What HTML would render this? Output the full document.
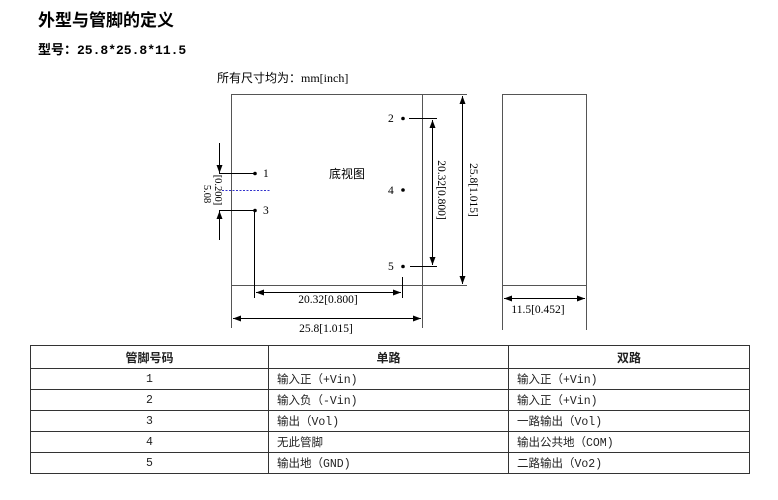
<!DOCTYPE html>
<html><head><meta charset="utf-8"><style>
body{margin:0;background:#fff;width:778px;height:500px;position:relative;overflow:hidden;font-family:"Liberation Sans","Noto Sans CJK SC",sans-serif;}
.t{position:absolute;white-space:nowrap;}
table{position:absolute;left:30px;top:345px;width:719px;table-layout:fixed;border-collapse:collapse;font-family:"Liberation Mono","Noto Sans CJK SC",monospace;font-size:11.5px;color:#222;}
td{border:1px solid #333;height:20px;padding:0 0 0 8px;}
td.c{text-align:center;padding:0;}
th{border:1px solid #333;height:20px;font-weight:bold;font-size:12px;}
tr{height:21px;}
</style></head><body>
<div class="t" style="left:38px;top:6px;font-size:17px;font-weight:bold;">外型与管脚的定义</div>
<div class="t" style="left:38px;top:39px;font-size:13px;font-weight:bold;font-family:'Liberation Mono','Noto Sans CJK SC',monospace;">型号：25.8*25.8*11.5</div>
<svg width="778" height="345" style="position:absolute;left:0;top:0" font-family="Liberation Serif, Noto Serif CJK SC, serif">
<defs><marker id="a" markerWidth="8" markerHeight="6" refX="8" refY="3" orient="auto-start-reverse" markerUnits="userSpaceOnUse"><path d="M0,0L8,3L0,6z" fill="#000"/></marker></defs>
<text x="217" y="82" font-size="12" font-family="Liberation Serif, Noto Sans CJK SC, serif">所有尺寸均为：mm[inch]</text>
<g stroke="#555" fill="none" stroke-width="1">
<rect x="231.5" y="94.5" width="191" height="191"/>
<line x1="422" y1="94.5" x2="467" y2="94.5"/>
<line x1="422" y1="285.5" x2="467" y2="285.5"/>
<line x1="231.5" y1="285" x2="231.5" y2="328"/>
<line x1="422.5" y1="285" x2="422.5" y2="328"/>
<rect x="502.5" y="94.5" width="84" height="191"/>
<line x1="502.5" y1="285" x2="502.5" y2="330"/>
<line x1="586.5" y1="285" x2="586.5" y2="330"/>
</g>
<g stroke="#000" stroke-width="1" fill="none">
<line x1="409" y1="118.5" x2="437" y2="118.5"/>
<line x1="410" y1="266.5" x2="437" y2="266.5"/>
<line x1="219" y1="173.5" x2="255" y2="173.5"/>
<line x1="219" y1="210.5" x2="255" y2="210.5"/>
<line x1="254.5" y1="210" x2="254.5" y2="298"/>
<line x1="402.5" y1="277" x2="402.5" y2="298"/>
<line x1="462.5" y1="96" x2="462.5" y2="284" marker-start="url(#a)" marker-end="url(#a)"/>
<line x1="432.5" y1="120" x2="432.5" y2="265" marker-start="url(#a)" marker-end="url(#a)"/>
<line x1="256" y1="292.5" x2="401" y2="292.5" marker-start="url(#a)" marker-end="url(#a)"/>
<line x1="233" y1="318.5" x2="421" y2="318.5" marker-start="url(#a)" marker-end="url(#a)"/>
<line x1="504" y1="298.5" x2="585" y2="298.5" marker-start="url(#a)" marker-end="url(#a)"/>
<line x1="219.5" y1="143" x2="219.5" y2="173" marker-end="url(#a)"/>
<line x1="219.5" y1="240" x2="219.5" y2="211" marker-end="url(#a)"/>
</g>
<line x1="222" y1="190.5" x2="270" y2="190.5" stroke="#33c" stroke-dasharray="2,1.5"/>
<g fill="#000">
<circle cx="403" cy="118.5" r="1.8"/><circle cx="403" cy="190" r="1.8"/><circle cx="403" cy="266.5" r="1.8"/>
<circle cx="255" cy="173.5" r="1.8"/><circle cx="255" cy="210.5" r="1.8"/>
</g>
<g font-size="11.5">
<text x="388" y="122">2</text><text x="388" y="194">4</text><text x="388" y="270">5</text>
<text x="263" y="177">1</text><text x="263" y="214">3</text>
<text x="329" y="178" font-size="12" font-family="Noto Sans CJK SC, sans-serif">底视图</text>
<text x="328" y="303" text-anchor="middle">20.32[0.800]</text>
<text x="326" y="332" text-anchor="middle">25.8[1.015]</text>
<text x="538" y="313" text-anchor="middle">11.5[0.452]</text>
<text transform="translate(470,190) rotate(90)" text-anchor="middle">25.8[1.015]</text>
<text transform="translate(438,190) rotate(90)" text-anchor="middle">20.32[0.800]</text>
<text transform="translate(204,194) rotate(90)" text-anchor="middle" font-size="10.5">5.08</text>
<text transform="translate(215,190) rotate(90)" text-anchor="middle" font-size="10.5">[0.200]</text>
</g>
</svg>
<table>
<colgroup><col style="width:238px"><col style="width:240px"><col style="width:241px"></colgroup>
<tr><th>管脚号码</th><th>单路</th><th>双路</th></tr>
<tr><td class="c">1</td><td>输入正（+Vin)</td><td>输入正（+Vin)</td></tr>
<tr><td class="c">2</td><td>输入负（-Vin)</td><td>输入正（+Vin)</td></tr>
<tr><td class="c">3</td><td>输出（Vol)</td><td>一路输出（Vol)</td></tr>
<tr><td class="c">4</td><td>无此管脚</td><td>输出公共地（COM)</td></tr>
<tr><td class="c">5</td><td>输出地（GND)</td><td>二路输出（Vo2)</td></tr>
</table>
</body></html>
